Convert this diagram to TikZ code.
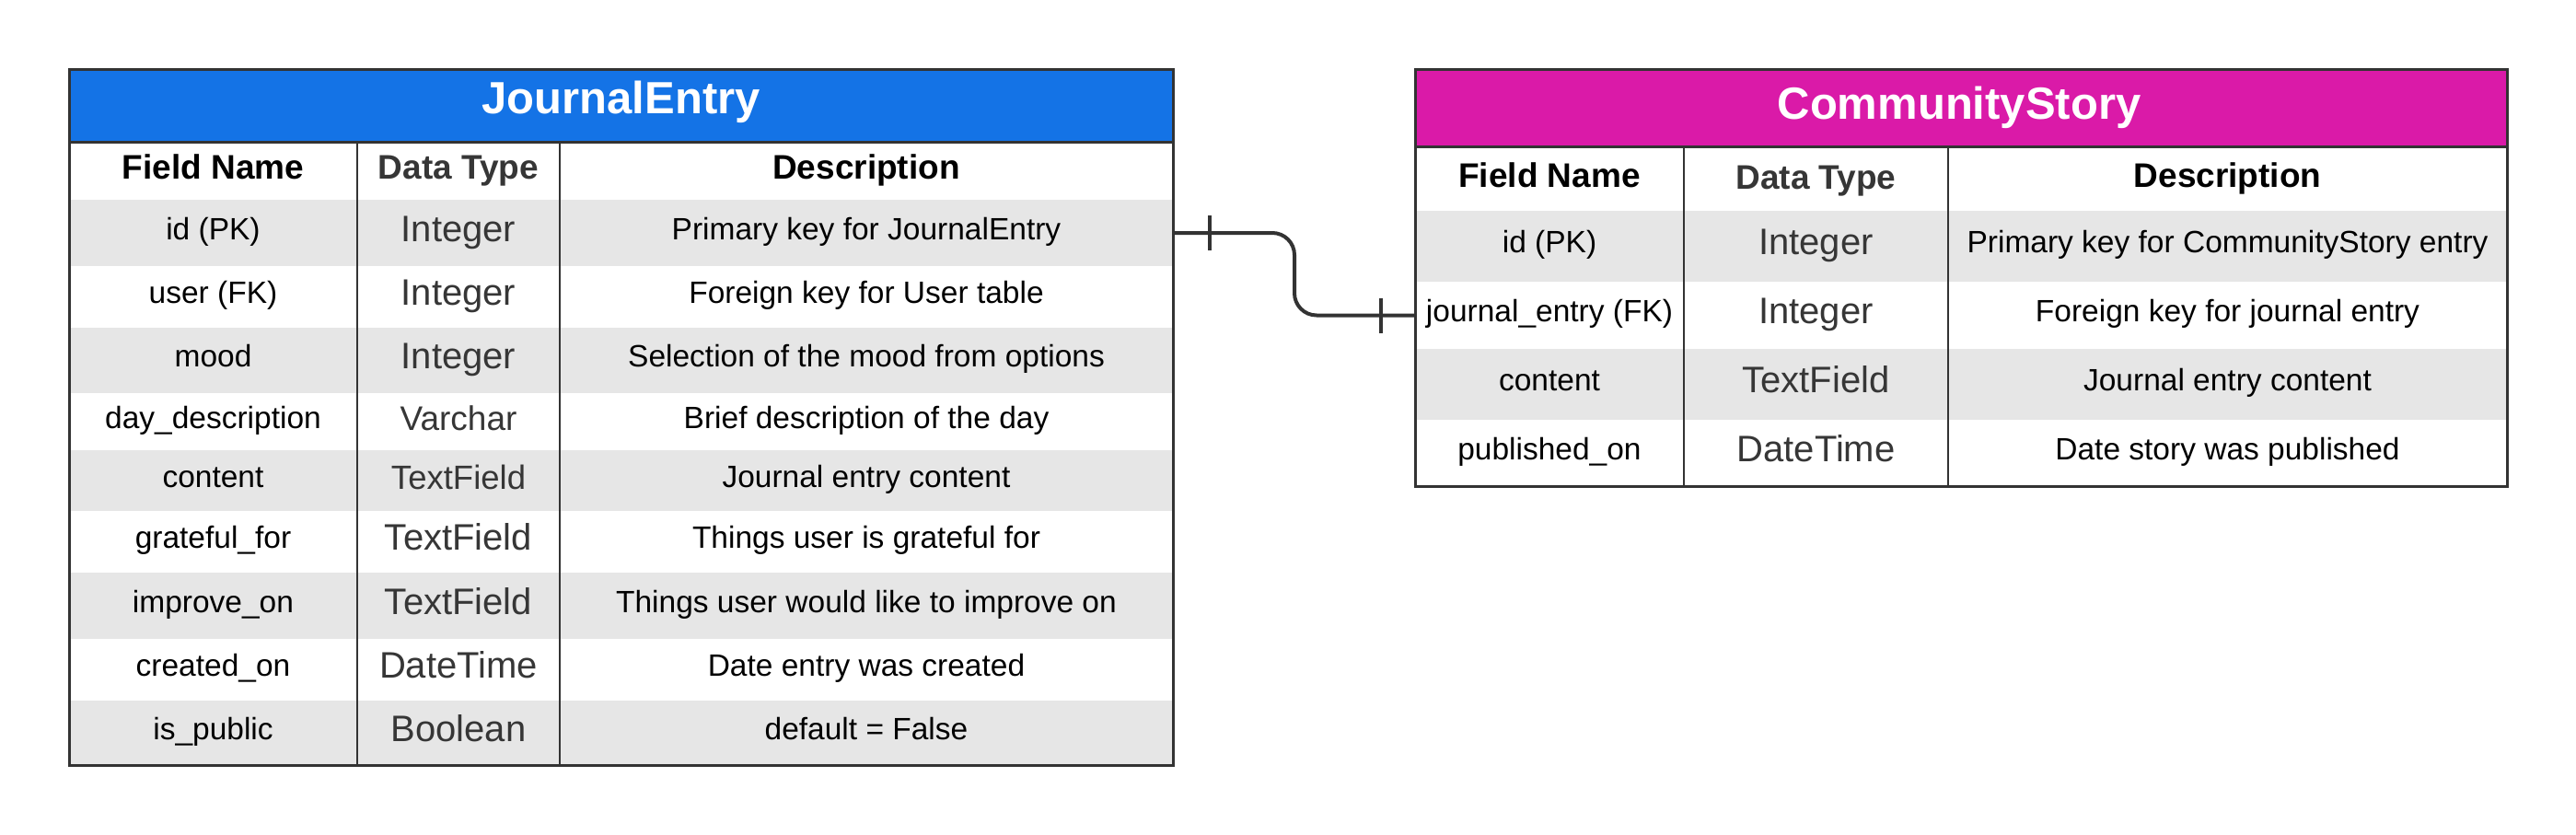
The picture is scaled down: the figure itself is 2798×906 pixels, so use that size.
\documentclass[tikz,border=0pt]{standalone}
\usepackage{fontspec}
\setmainfont{Liberation Sans}
\definecolor{jeblue}{HTML}{1473E6}
\definecolor{csmag}{HTML}{DA1AA8}
\definecolor{rowgray}{HTML}{E6E6E6}
\definecolor{linegray}{HTML}{333333}
\definecolor{dtgray}{HTML}{363636}
\begin{document}
\begin{tikzpicture}[x=1pt,y=-1pt,
  rowbg/.style={draw=none,inner sep=0pt,outer sep=0pt,anchor=north west},
  bodytxt/.style={anchor=base,inner sep=0pt,text=black,font=\fontsize{33.5}{40}\selectfont},
  typetxt/.style={anchor=base,inner sep=0pt,text=dtgray},
  hdrtxt/.style={anchor=base,inner sep=0pt,text=black,font=\bfseries\fontsize{37}{44}\selectfont},
  ttltxt/.style={anchor=base,inner sep=0pt,text=white,font=\bfseries\fontsize{49}{58}\selectfont},
  border/.style={draw=linegray,line width=3pt},
  divider/.style={draw=linegray,line width=2pt},
  conn/.style={draw=linegray,line width=4pt}]
\useasboundingbox (0,0) rectangle (2798,906);

% ---------------- JournalEntry ----------------
\node[rowbg,fill=jeblue,minimum width=1199pt,minimum height=79pt] (je-head) at (75,75) {};
\node[ttltxt] (je-title) at (674.5,123) {JournalEntry};
\node[rowbg,fill=white,minimum width=1199pt,minimum height=63pt] (je-cols) at (75,154) {};
\node[hdrtxt] (je-h1) at (231.5,194) {Field Name};
\node[hdrtxt,text=dtgray] (je-h2) at (498,194) {Data Type};
\node[hdrtxt] (je-h3) at (941,194) {Description};
\foreach \n/\t/\b/\fl/\z/\f/\d/\s in {
 id/217/289/rowgray/40/{id (PK)}/Integer/{Primary key for JournalEntry},
 user/289/356/white/40/{user (FK)}/Integer/{Foreign key for User table},
 mood/356/427/rowgray/40/mood/Integer/{Selection of the mood from options},
 day/427/489/white/37/{day\_description}/Varchar/{Brief description of the day},
 content/489/555/rowgray/36.5/content/TextField/{Journal entry content},
 grateful/555/622/white/40/{grateful\_for}/TextField/{Things user is grateful for},
 improve/622/694/rowgray/40/{improve\_on}/TextField/{Things user would like to improve on},
 created/694/761/white/40/{created\_on}/DateTime/{Date entry was created},
 public/761/831/rowgray/40/{is\_public}/Boolean/{default = False}}{
  \pgfmathsetmacro\c{(\t+\b)/2}
  \node[rowbg,fill=\fl,minimum width=1199pt,minimum height={(\b-\t)*1pt}] (je-\n) at (75,\t) {};
  \node[bodytxt] (je-\n-f) at (231.5,\c+7) {\f};
  \node[typetxt,font=\fontsize{\z}{\z}\selectfont] (je-\n-t) at (498,\c+9) {\d};
  \node[bodytxt] (je-\n-d) at (941,\c+7) {\s};
}
\draw[divider] (je-cols.north west -| 388,0) -- (je-public.south west -| 388,0);
\draw[divider] (je-cols.north west -| 608,0) -- (je-public.south west -| 608,0);
\draw[border] (je-head.south west) -- (je-head.south east);
\draw[border] (je-head.north west) rectangle (je-public.south east);

% ---------------- CommunityStory ----------------
\node[rowbg,fill=csmag,minimum width=1186pt,minimum height=84pt] (cs-head) at (1537,75) {};
\node[ttltxt] (cs-title) at (2128,129) {CommunityStory};
\node[rowbg,fill=white,minimum width=1186pt,minimum height=70pt] (cs-cols) at (1537,159) {};
\node[hdrtxt] (cs-h1) at (1683,203) {Field Name};
\node[hdrtxt,text=dtgray] (cs-h2) at (1972.5,205) {Data Type};
\node[hdrtxt] (cs-h3) at (2419.5,203) {Description};
\foreach \n/\t/\b/\fl/\f/\d/\s in {
 id/229/306/rowgray/{id (PK)}/Integer/{Primary key for CommunityStory entry},
 fk/306/379/white/{journal\_entry (FK)}/Integer/{Foreign key for journal entry},
 content/379/456/rowgray/content/TextField/{Journal entry content},
 published/456/528/white/{published\_on}/DateTime/{Date story was published}}{
  \pgfmathsetmacro\c{(\t+\b)/2}
  \node[rowbg,fill=\fl,minimum width=1186pt,minimum height={(\b-\t)*1pt}] (cs-\n) at (1537,\t) {};
  \node[bodytxt] (cs-\n-f) at (1683,\c+7) {\f};
  \node[typetxt,font=\fontsize{40}{40}\selectfont] (cs-\n-t) at (1972.5,\c+9) {\d};
  \node[bodytxt] (cs-\n-d) at (2419.5,\c+7) {\s};
}
\draw[divider] (cs-cols.north west -| 1829,0) -- (cs-published.south west -| 1829,0);
\draw[divider] (cs-cols.north west -| 2116,0) -- (cs-published.south west -| 2116,0);
\draw[border] (cs-head.south west) -- (cs-head.south east);
\draw[border] (cs-head.north west) rectangle (cs-published.south east);

% ---------------- connector ----------------
\coordinate (bendx) at (1406,0);
\draw[conn,rounded corners=24pt] (je-id.east) -- (je-id.east -| bendx) -- (bendx |- cs-fk.west) -- (cs-fk.west);
\draw[conn] ([xshift=40pt]je-id.east) ++(0,-19) -- ++(0,38);
\draw[conn] ([xshift=-37pt]cs-fk.west) ++(0,-19) -- ++(0,38);
\end{tikzpicture}
\end{document}
